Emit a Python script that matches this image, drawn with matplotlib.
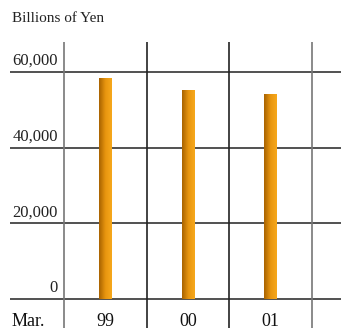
import numpy as np
import matplotlib
matplotlib.use("Agg")
import matplotlib.pyplot as plt
from matplotlib.colors import LinearSegmentedColormap

# Values in billions of yen, fiscal year-end (March)
years = ["99", "00", "01"]
values = [58300, 55300, 54300]
y_ticks = [0, 20000, 40000, 60000]
y_tick_labels = ["0", "20,000", "40,000", "60,000"]

W, H = 341, 331
fig = plt.figure(figsize=(W / 100, H / 100), dpi=100)
fig.patch.set_facecolor("white")

serif = ["Liberation Serif", "DejaVu Serif"]

# axes covering the grid area; x units = one column per year
left_px, right_px, top_px, bottom_px = 10, 341, 42, 328
ax = fig.add_axes([left_px / W, 1 - bottom_px / H,
                   (right_px - left_px) / W, (bottom_px - top_px) / H])
col_px = (312 - 64) / 3.0
ax.set_xlim((left_px - 64) / col_px, 3 + (right_px - 312) / col_px)
px_per_unit = (299 - 72) / 60000.0
ax.set_ylim(-(bottom_px - 299) / px_per_unit, (299 - top_px) / px_per_unit)
ax.axis("off")

# horizontal gridlines
for t in y_ticks:
    ax.axhline(t, color="#222222", lw=1.1, zorder=1)

# vertical column separators
for i in range(4):
    c = "#777777" if i in (0, 3) else "#222222"
    ax.axvline(i, color=c, lw=1.2, zorder=1)

# gradient bars
cmap = LinearSegmentedColormap.from_list("bar", ["#a86200", "#e8960f", "#f7a81c"])
grad = np.linspace(0, 1, 64).reshape(1, -1)
bw = 13 / col_px
for i, v in enumerate(values):
    x0 = i + 0.5 - bw / 2
    bars = ax.bar(i + 0.5, v, width=bw, color="none", edgecolor="none", zorder=3)
    im = ax.imshow(grad, cmap=cmap, aspect="auto",
                   extent=[x0, x0 + bw, 0, v], zorder=3, interpolation="bicubic")
    im.set_clip_path(bars[0])

# y labels sitting above their gridlines
for t, lab in zip(y_ticks, y_tick_labels):
    ax.text((58 - 64) / col_px, t + 3 / px_per_unit, lab, ha="right", va="bottom",
            fontsize=12, family=serif, color="#222222")

# year labels
for i, yr in enumerate(years):
    ax.text(i + 0.5, -(322 - 299) / px_per_unit, yr, ha="center", va="center",
            fontsize=13, family=serif, color="#111111")
fig.text(12 / W, 1 - 322 / H, "Mar.", ha="left", va="center",
         fontsize=13, family=serif, color="#111111")

fig.text(12 / W, 1 - 18 / H, "Billions of Yen", ha="left", va="center",
         fontsize=11, family=serif, color="#222222")

fig.savefig("out.png", dpi=100)
